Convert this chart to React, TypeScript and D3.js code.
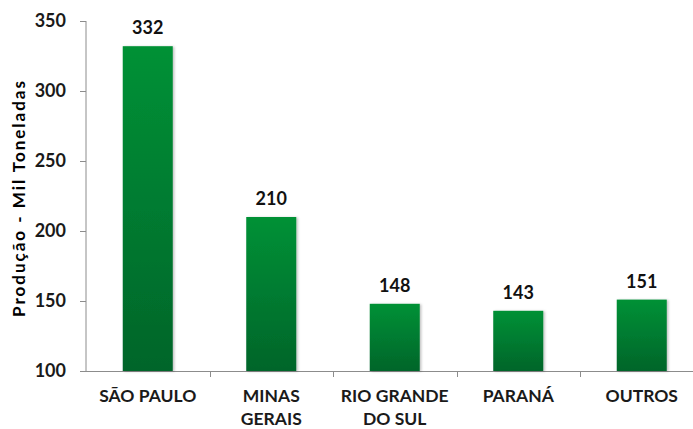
import React, { useRef, useEffect } from "react";
import * as d3 from "d3";

const categories = ["SÃO PAULO", "MINAS GERAIS", "RIO GRANDE DO SUL", "PARANÁ", "OUTROS"];
const categoryLines = [["SÃO PAULO"], ["MINAS", "GERAIS"], ["RIO GRANDE", "DO SUL"], ["PARANÁ"], ["OUTROS"]];
const production = [332, 210, 148, 143, 151];
const yTicks = [100, 150, 200, 250, 300, 350];
const yTitle = "Produção - Mil Toneladas";

const FONT = "Lato, 'DejaVu Sans', sans-serif";

function ProductionChart() {
  const svgRef = useRef<SVGSVGElement>(null);

  useEffect(() => {
    document.body.style.margin = "0";
    const svg = d3.select(svgRef.current);
    svg.selectAll("*").remove();

    const left = 86;
    const top = 21;
    const bottom = 371;
    const band = 123.5;

    const x = d3
      .scaleBand()
      .domain(categories)
      .range([left, left + band * categories.length])
      .paddingInner(0.595)
      .paddingOuter(0.2975);

    const y = d3.scaleLinear().domain([100, 350]).range([bottom, top]);

    // gradient for the bars
    const defs = svg.append("defs");
    const grad = defs
      .append("linearGradient")
      .attr("id", "barGrad")
      .attr("x1", 0)
      .attr("y1", 0)
      .attr("x2", 0)
      .attr("y2", 1);
    grad.append("stop").attr("offset", "0%").attr("stop-color", "#009136");
    grad.append("stop").attr("offset", "100%").attr("stop-color", "#00652a");

    const shadow = defs.append("filter").attr("id", "barShadow").attr("x", "-10%").attr("width", "130%");
    shadow
      .append("feDropShadow")
      .attr("dx", 1.5)
      .attr("dy", 0.5)
      .attr("stdDeviation", 0.8)
      .attr("flood-color", "#000")
      .attr("flood-opacity", 0.25);

    // axes
    const axisColor = "#8c8c8c";
    svg
      .append("line")
      .attr("x1", left)
      .attr("x2", left)
      .attr("y1", top)
      .attr("y2", bottom)
      .attr("stroke", axisColor);
    svg
      .append("line")
      .attr("x1", left - 6)
      .attr("x2", left + band * categories.length)
      .attr("y1", bottom + 0.5)
      .attr("y2", bottom + 0.5)
      .attr("stroke", axisColor);

    svg
      .selectAll(".ytick")
      .data(yTicks)
      .enter()
      .append("line")
      .attr("x1", left - 6)
      .attr("x2", left)
      .attr("y1", (d) => Math.round(y(d)) + 0.5)
      .attr("y2", (d) => Math.round(y(d)) + 0.5)
      .attr("stroke", axisColor);

    svg
      .selectAll(".ylabel")
      .data(yTicks)
      .enter()
      .append("text")
      .attr("x", left - 20)
      .attr("y", (d) => y(d))
      .attr("dy", "0.36em")
      .attr("text-anchor", "end")
      .style("font-family", FONT)
      .style("font-weight", 700)
      .style("font-size", "18px")
      .style("fill", "#1a1a1a")
      .text((d) => d);

    // category separator ticks
    svg
      .selectAll(".xtick")
      .data(d3.range(1, categories.length + 1))
      .enter()
      .append("line")
      .attr("x1", (i) => Math.round(left + band * i) + 0.5)
      .attr("x2", (i) => Math.round(left + band * i) + 0.5)
      .attr("y1", bottom)
      .attr("y2", bottom + 6)
      .attr("stroke", axisColor);

    // bars
    svg
      .selectAll(".bar")
      .data(production)
      .enter()
      .append("rect")
      .attr("x", (d, i) => x(categories[i]))
      .attr("y", (d) => y(d))
      .attr("width", x.bandwidth())
      .attr("height", (d) => bottom - y(d))
      .attr("fill", "url(#barGrad)")
      .attr("filter", "url(#barShadow)");

    // value labels
    svg
      .selectAll(".value")
      .data(production)
      .enter()
      .append("text")
      .attr("x", (d, i) => x(categories[i]) + x.bandwidth() / 2)
      .attr("y", (d) => y(d) - 12)
      .attr("text-anchor", "middle")
      .style("font-family", FONT)
      .style("font-weight", 700)
      .style("font-size", "18px")
      .style("fill", "#111")
      .text((d) => d);

    // category labels
    const labels = svg
      .selectAll(".cat")
      .data(categoryLines)
      .enter()
      .append("text")
      .attr("text-anchor", "middle")
      .style("font-family", FONT)
      .style("font-weight", 700)
      .style("font-size", "17.5px")
      .style("fill", "#1a1a1a");
    labels
      .selectAll("tspan")
      .data((lines, i) => lines.map((t) => ({ t, i })))
      .enter()
      .append("tspan")
      .attr("x", (d) => x(categories[d.i]) + x.bandwidth() / 2)
      .attr("y", (d, j) => 402 + j * 23)
      .text((d) => d.t);

    // y axis title
    svg
      .append("text")
      .attr("transform", `translate(25,199) rotate(-90)`)
      .attr("text-anchor", "middle")
      .attr("textLength", 236)
      .attr("lengthAdjust", "spacing")
      .style("font-family", FONT)
      .style("font-weight", 700)
      .style("font-size", "17px")
      .style("fill", "#000")
      .text(yTitle);
  }, []);

  return <svg ref={svgRef} width={693} height={429} style={{ display: "block" }} />;
}

export default function App() {
  return <ProductionChart />;
}
